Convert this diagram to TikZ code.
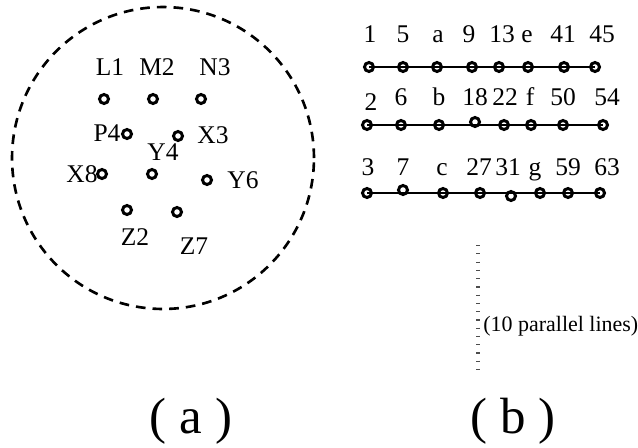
\documentclass[tikz,border=0pt]{standalone}
\usepackage{fontspec}
\setmainfont{Liberation Serif}
\tikzstyle{pin}=[circle,draw,line width=1.7pt,inner sep=0pt,minimum size=0.18cm]
\tikzstyle{lbl}=[inner sep=0pt,font=\fontsize{14.5}{17}\selectfont]
\tikzstyle{wire}=[line width=1.6pt]
\tikzstyle{caption}=[inner sep=0pt,font=\fontsize{29}{33}\selectfont]
\begin{document}
\begin{tikzpicture}[x=0.02cm,y=-0.02cm]
  \useasboundingbox (0,0) rectangle (638,447);
  % (a) the pins in the circle
  \node[circle,draw,line width=1.5pt,dash pattern=on 5.5pt off 4pt,
    minimum size=6.04cm,inner sep=0pt] (ring) at (163,158) {};
  \node[pin] (L1) at (104,99) {};
  \node[pin] (M2) at (153,99) {};
  \node[pin] (N3) at (201,99) {};
  \node[pin] (P4) at (127,134) {};
  \node[pin] (X3) at (178,136) {};
  \node[pin] (X8) at (102,174) {};
  \node[pin] (Y4) at (152,174) {};
  \node[pin] (Y6) at (207,180) {};
  \node[pin] (Z2) at (127,210) {};
  \node[pin] (Z7) at (177,212) {};
  \node[lbl] (L1 text) at (110,67) {L1};
  \node[lbl] (M2 text) at (157,67) {M2};
  \node[lbl] (N3 text) at (215,67) {N3};
  \node[lbl] (P4 text) at (107,133) {P4};
  \node[lbl] (X3 text) at (213,135) {X3};
  \node[lbl] (Y4 text) at (163,152) {Y4};
  \node[lbl] (X8 text) at (82,174) {X8};
  \node[lbl] (Y6 text) at (243,180) {Y6};
  \node[lbl] (Z2 text) at (135,237) {Z2};
  \node[lbl] (Z7 text) at (194,246) {Z7};

  % (b) three of the parallel lines
  \foreach \x/\y/\lx/\ly/\t [count=\i] in {369/67/370/42/1, 403/67/403/42/5,
    437/67/438/42/a, 472/67/469/42/9, 499/67/502/42/13, 528/67/527/42/e,
    564/67/563/42/41, 595/67/602/42/45,
    367/125/371/110/2, 401/125/401/105/6, 439/125/439/105/b,
    475/122/475/105/18, 504/125/505/105/22, 531/125/530/105/f,
    563/125/563/105/50, 603/125/607/105/54,
    367/193/368/175/3, 403/190/403/175/7, 443/193/442/175/c,
    480/193/479/175/27, 511/196/508/175/31, 540/193/535/175/g,
    568/193/568/175/59, 600/193/607/175/63} {
    \pgfmathtruncatemacro{\row}{(\i - 1)/8 + 1};
    \pgfmathtruncatemacro{\col}{mod(\i - 1, 8) + 1};
    \node[pin] (\row \space pin \col) at (\x,\y) {};
    \node[lbl,anchor=base] (\row \space text \col) at (\lx,\ly) {\t};
  }
  \foreach \r in {1,2,3} {
    \draw[wire] (\r \space pin 1.center) -- (\r \space pin 8.center);
  }

  \coordinate (dots top) at (478,245);
  \coordinate (dots bottom) at (478,373);
  \draw[gray!60!black,line width=1.8pt,dash pattern=on 0.7pt off 4pt]
    (dots top) -- (dots bottom);
  \node[inner sep=0pt,anchor=west,font=\fontsize{12.5}{15}\selectfont]
    (lines text) at (483,326) {(10 parallel lines)};

  \node[caption] (cap a) at (191,421) {( a )};
  \node[caption] (cap b) at (513,421) {( b )};
\end{tikzpicture}
\end{document}
